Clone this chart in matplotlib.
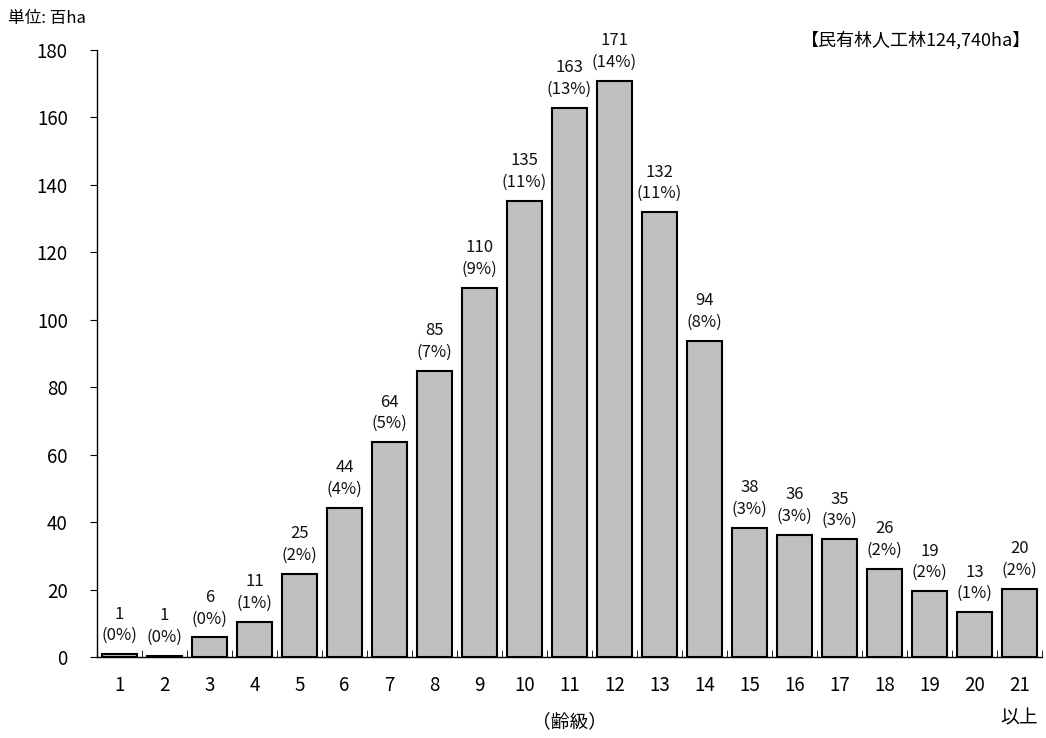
import matplotlib
matplotlib.use("Agg")
import matplotlib.pyplot as plt
import numpy as np

plt.rcParams['font.family'] = ['Noto Sans CJK JP', 'DejaVu Sans']

# 齢級ごとの面積（百ha）
classes = [str(i) for i in range(1, 21)] + ['21\n以上']
areas = [0.8, 0.4, 5.8, 10.5, 24.6, 44.2, 63.7, 84.8, 109.5, 135.3, 162.8,
         170.9, 131.9, 93.7, 38.3, 36.2, 34.9, 26.2, 19.5, 13.3, 20.3]
value_labels = ['1', '1', '6', '11', '25', '44', '64', '85', '110', '135', '163',
                '171', '132', '94', '38', '36', '35', '26', '19', '13', '20']
pct_labels = [0, 0, 0, 1, 2, 4, 5, 7, 9, 11, 13, 14, 11, 8, 3, 3, 3, 2, 2, 1, 2]

fig = plt.figure(figsize=(10.46, 7.38), dpi=100)
ax = fig.add_axes([0.0927, 0.1098, 0.9033, 0.8225])

x = np.arange(len(classes))
ax.bar(x, areas, width=0.78, color='#bfbfbf', edgecolor='black', linewidth=1.5)

for xi, h, v, p in zip(x, areas, value_labels, pct_labels):
    ax.annotate(v + '\n(' + str(p) + '%)', (xi, h), xytext=(0, 10),
                textcoords='offset pixels', ha='center', va='bottom',
                fontsize=12, linespacing=1.35, color='#111111')

ax.set_xlim(-0.5, len(classes) - 0.5)
ax.set_ylim(0, 180)
ax.set_yticks(range(0, 181, 20))
ax.tick_params(axis='y', direction='out', length=5, labelsize=13.5, pad=16)

ax.set_xticks(x)
ax.set_xticklabels(classes, fontsize=13.5, va='top', linespacing=1.7)
ax.tick_params(axis='x', length=0, pad=13)
ax.set_xticks(np.arange(-0.5, len(classes), 1), minor=True)
ax.tick_params(axis='x', which='minor', direction='in', length=5)

for s in ['top', 'right']:
    ax.spines[s].set_visible(False)
ax.spines['left'].set_linewidth(1)
ax.spines['bottom'].set_linewidth(1)

ax.set_xlabel('（齢級）', fontsize=13.5, va='center')
ax.xaxis.set_label_coords(0.5, -0.107)

fig.text(0.008, 0.975, '単位: 百ha', fontsize=12, ha='left', va='center')
fig.text(0.986, 0.946, '【民有林人工林124,740ha】', fontsize=13, ha='right', va='center')

fig.savefig('out.png', dpi=100)
